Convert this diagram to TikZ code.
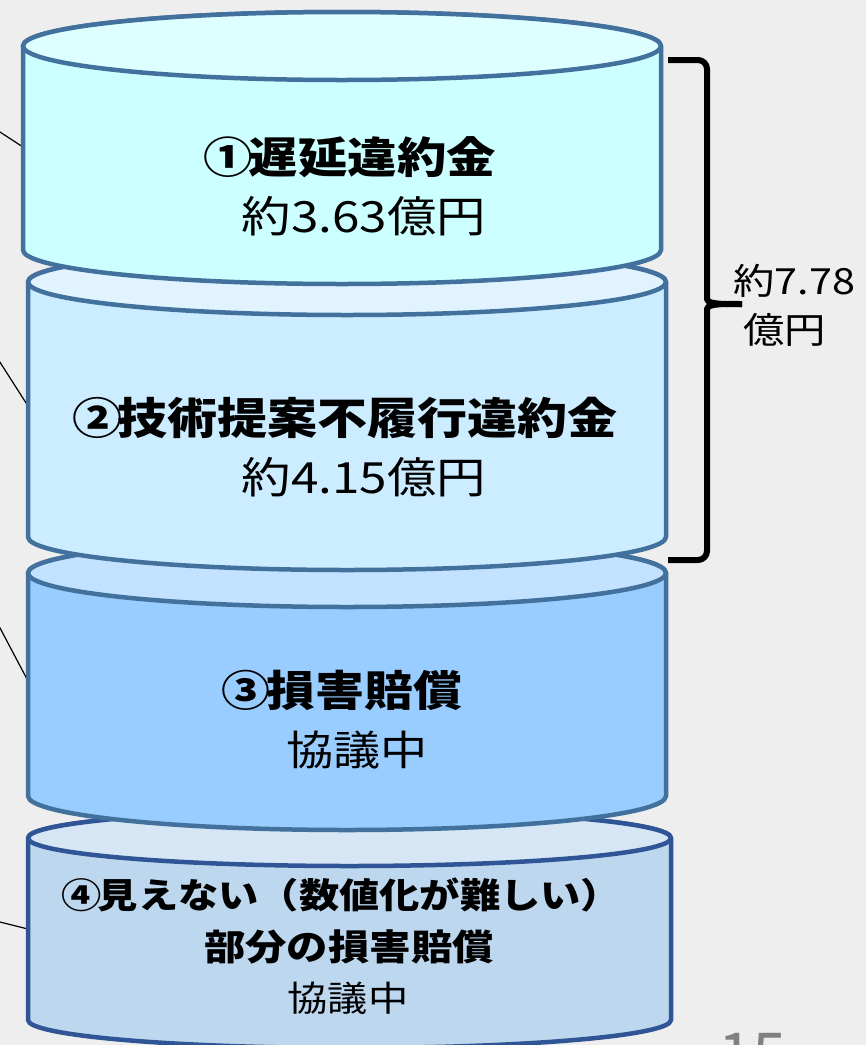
\documentclass[tikz,border=0pt]{standalone}
\usepackage{fontspec}
\newfontfamily\jp[FakeStretch=1.15]{Noto Sans CJK JP}
\newfontfamily\jpplain{Noto Sans CJK JP}
\definecolor{bgc}{HTML}{EEEEEE}
\definecolor{edgeA}{HTML}{41719C}
\definecolor{edgeB}{HTML}{2F5597}
\definecolor{bodyA}{HTML}{CCFFFF}
\definecolor{topA}{HTML}{DDFFFF}
\definecolor{bodyB}{HTML}{CCECFF}
\definecolor{topB}{HTML}{E0F3FF}
\definecolor{bodyC}{HTML}{99CCFF}
\definecolor{topC}{HTML}{C2E2FF}
\definecolor{bodyD}{HTML}{BDD7EE}
\definecolor{topD}{HTML}{D6E6F5}
\definecolor{pagenum}{HTML}{808080}
% #1 xl, #2 xr, #3 top centre y, #4 bottom centre y, #5 ry, #6 body, #7 top, #8 edge
\newcommand\drawcyl[8]{%
  \pgfmathsetmacro\cx{(#1+#2)/2}%
  \pgfmathsetmacro\rx{(#2-#1)/2}%
  \draw[cylline, draw=#8, fill=#6] (#1,-#3) -- (#1,-#4)
     arc[start angle=180, end angle=360, x radius=\rx pt, y radius=#5 pt]
     -- (#2,-#3)
     arc[start angle=0, end angle=180, x radius=\rx pt, y radius=#5 pt] -- cycle;
  \draw[cylline, draw=#8, fill=#7] (\cx,-#3) ellipse [x radius=\rx pt, y radius=#5 pt];
}
\newcommand\cdg[1]{#1\kern-0.1em}
\begin{document}
\begin{tikzpicture}[x=1pt,y=1pt,
  cylline/.style={line width=4.5pt, line join=round},
  leader/.style={draw=black, line width=1.2pt},
  ttl/.style={font={\jp\bfseries\fontsize{#1}{#1}\selectfont}, inner sep=0pt, text=black},
  sub/.style={font={\jp\fontsize{#1}{#1}\selectfont}, inner sep=0pt, text=black},
  bracestyle/.style={draw=black, line width=6pt, line cap=butt, line join=round}]
\useasboundingbox (0,0) rectangle (866,-1045);
\clip (0,0) rectangle (866,-1045);
\fill[bgc] (0,0) rectangle (866,-1045);

% leader lines coming from the left
\coordinate (l1s) at (-20,-119);
\coordinate (l1e) at (23,-147);
\coordinate (l2s) at (-20,-331);
\coordinate (l2e) at (28,-406);
\coordinate (l3s) at (-20,-590);
\coordinate (l3e) at (28,-681);
\coordinate (l4s) at (-20,-917);
\coordinate (l4e) at (28,-929);
\draw[leader] (l1s) -- (l1e);
\draw[leader] (l2s) -- (l2e);
\draw[leader] (l3s) -- (l3e);
\draw[leader] (l4s) -- (l4e);

% cylinders, bottom first
\drawcyl{28}{671}{838}{1020}{28}{bodyD}{topD}{edgeB}
\drawcyl{28}{666}{573}{796}{34}{bodyC}{topC}{edgeA}
\drawcyl{28}{666}{282}{537}{33}{bodyB}{topB}{edgeA}
\drawcyl{23}{661}{46}{250}{34}{bodyA}{topA}{edgeA}

% texts
\node[ttl=43] (t1) at (350,-157) {\cdg{①}遅延違約金};
\node[sub=43] (v1) at (364,-216) {約3.63億円};
\node[ttl=43.5] (t2) at (345,-418) {\cdg{②}技術提案不履行違約金};
\node[sub=43] (v2) at (364,-477) {約4.15億円};
\node[ttl=42.5] (t3) at (342,-690) {\cdg{③}損害賠償};
\node[sub=41] (v3) at (357,-750) {協議中};
\node[ttl=35] (t4) at (341,-895) {\cdg{④}見えない（数値化が難しい）};
\node[ttl=36] (t4b) at (349,-947) {部分の損害賠償};
\node[sub=35] (v4) at (348,-998) {協議中};

% brace
\coordinate (btop) at (668,-60);
\coordinate (bbot) at (668,-560);
\coordinate (btip) at (742,-304);
\draw[bracestyle, rounded corners=9pt] (btop) -| (707,-290) to[out=-90,in=180] (btip);
\draw[bracestyle, rounded corners=9pt] (bbot) -| (707,-318) to[out=90,in=180] (btip);

\node[sub=36, anchor=west] (tot1) at (733,-281) {約7.78};
\node[sub=36, anchor=west] (tot2) at (743,-330) {億円};

% page number (cut off at the lower edge, as in the reference)
\node[font={\jpplain\fontsize{62}{62}\selectfont}, text=pagenum, inner sep=0pt, anchor=base west] (pg) at (718,-1077) {15};
\end{tikzpicture}
\end{document}
